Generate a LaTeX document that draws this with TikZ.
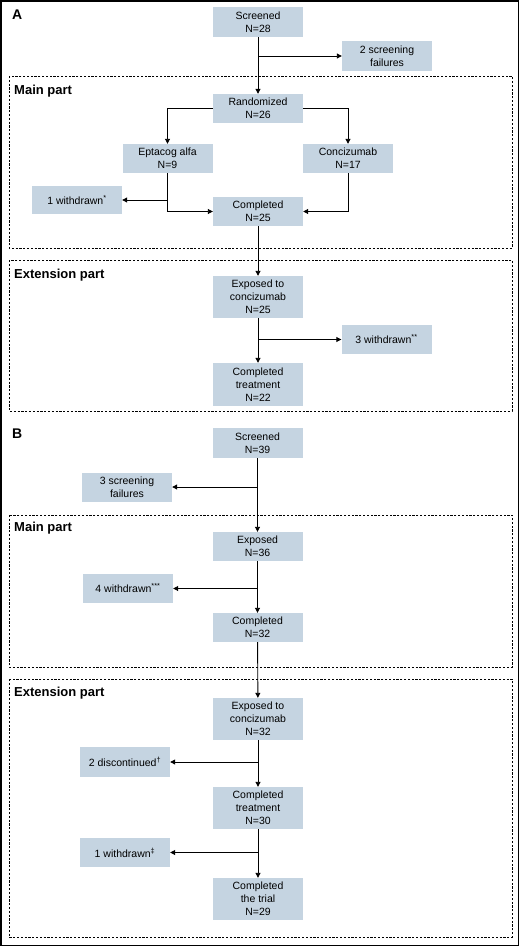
\documentclass[tikz,border=0pt]{standalone}
\usepackage{fontspec}
\setmainfont{Liberation Sans}
\usetikzlibrary{arrows.meta}
\definecolor{boxblue}{RGB}{197,212,225}
\tikzset{
  box/.style={fill=boxblue, minimum width=90pt, minimum height=29pt, inner sep=0pt, align=center, font=\fontsize{10.5}{13}\selectfont},
  tall/.style={box, minimum height=42pt},
  conn/.style={line width=0.9pt, -{Triangle[length=5pt,width=5pt]}},
  plain/.style={line width=0.9pt},
  part/.style={draw, line width=0.8pt, dash pattern=on 2.2pt off 1.6pt},
  partlabel/.style={anchor=west, inner sep=0pt, font=\fontsize{13}{15}\selectfont\bfseries},
  panellabel/.style={anchor=west, inner sep=0pt, font=\fontsize{14}{16}\selectfont\bfseries}
}
\begin{document}
\begin{tikzpicture}[x=1pt,y=-1pt]
\useasboundingbox (0,0) rectangle (520,947);
\fill[white] (0,0) rectangle (520,947);
\draw[line width=1.6pt] (0.8,0.8) rectangle (518.4,945.6);

% ---------- Panel A ----------
\node[panellabel] (labA) at (12,15) {A};
\draw[part] (9,76) rectangle (512,248);
\node[partlabel] (mainA) at (14,91) {Main part};
\draw[part] (9,260) rectangle (512,411);
\node[partlabel] (extA) at (14,275) {Extension part};

\node[box, minimum height=30pt] (scrA) at (258,22) {Screened\\N=28};
\node[box, minimum height=30pt] (sfA) at (387,56) {2 screening\\failures};
\node[box] (randA) at (258,108.5) {Randomized\\N=26};
\node[box] (eptA) at (167.5,158.5) {Eptacog alfa\\N=9};
\node[box] (conA) at (348,158.5) {Concizumab\\N=17};
\node[box, minimum height=28pt] (wdA) at (77,200) {1 withdrawn\textsuperscript{*}};
\node[box] (compA) at (258,211.5) {Completed\\N=25};
\node[tall] (expA) at (258,297) {Exposed to\\concizumab\\N=25};
\node[box] (wd2A) at (386.5,339.5) {3 withdrawn\textsuperscript{**}};
\node[tall, minimum height=43pt] (ctA) at (258,384.5) {Completed\\treatment\\N=22};

\draw[conn] (scrA) -- (randA);
\draw[conn] (scrA.south |- sfA.west) -- (sfA.west);
\draw[conn] (randA.west) -| (eptA.north);
\draw[conn] (randA.east) -| (conA.north);
\draw[conn] (eptA.south) |- (compA.west);
\draw[conn] (eptA.south |- wdA.east) -- (wdA.east);
\draw[conn] (conA.south) |- (compA.east);
\draw[conn] (compA) -- (expA);
\draw[conn] (expA) -- (ctA);
\draw[conn] (expA.south |- wd2A.west) -- (wd2A.west);

% ---------- Panel B ----------
\node[panellabel] (labB) at (12,434) {B};
\draw[part] (9,515) rectangle (512,667);
\node[partlabel] (mainB) at (14,528) {Main part};
\draw[part] (9,679) rectangle (512,937);
\node[partlabel] (extB) at (14,693) {Extension part};

\node[box, minimum height=30pt] (scrB) at (257.5,443) {Screened\\N=39};
\node[box] (sfB) at (127,487) {3 screening\\failures};
\node[box] (expB) at (257.5,546.5) {Exposed\\N=36};
\node[box] (wdB) at (128,588.5) {4 withdrawn\textsuperscript{***}};
\node[box] (compB) at (257.5,627.5) {Completed\\N=32};
\node[tall] (exp2B) at (258,719) {Exposed to\\concizumab\\N=32};
\node[box, minimum height=30pt] (discB) at (125,762) {2 discontinued\textsuperscript{†}};
\node[tall] (ctB) at (258,808) {Completed\\treatment\\N=30};
\node[box] (wd2B) at (125,852.5) {1 withdrawn\textsuperscript{‡}};
\node[tall] (trialB) at (258,899) {Completed\\the trial\\N=29};

\draw[conn] (scrB) -- (expB);
\draw[conn] (scrB.south |- sfB.east) -- (sfB.east);
\draw[conn] (expB) -- (compB);
\draw[conn] (expB.south |- wdB.east) -- (wdB.east);
\draw[conn] (compB) -- (exp2B);
\draw[conn] (exp2B) -- (ctB);
\draw[conn] (exp2B.south |- discB.east) -- (discB.east);
\draw[conn] (ctB) -- (trialB);
\draw[conn] (ctB.south |- wd2B.east) -- (wd2B.east);
\end{tikzpicture}
\end{document}
